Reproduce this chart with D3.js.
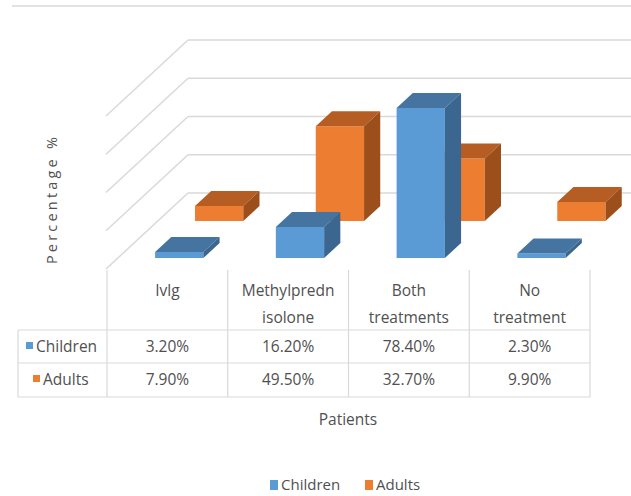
<!DOCTYPE html>
<html>
<head>
<meta charset="utf-8">
<script src="https://cdn.jsdelivr.net/npm/d3@7"></script>
<style>
html,body{margin:0;padding:0;background:#fff;}
svg{display:block;font-family:"Open Sans",sans-serif;}
</style>
</head>
<body>
<svg id="chart" width="631" height="496"></svg>
<script>
const categories = ["Ivlg", "Methylprednisolone", "Both treatments", "No treatment"];
const categoryLabels = [["Ivlg"], ["Methylpredn", "isolone"], ["Both", "treatments"], ["No", "treatment"]];
const seriesNames = ["Children", "Adults"];
const childrenValues = [3.2, 16.2, 78.4, 2.3];
const adultsValues = [7.9, 49.5, 32.7, 9.9];
const valueLabelsChildren = ["3.20%", "16.20%", "78.40%", "2.30%"];
const valueLabelsAdults = ["7.90%", "49.50%", "32.70%", "9.90%"];
const yTicks = [0, 20, 40, 60, 80];

const svg = d3.select("#chart");
const textColor = "#505050";
const gridColor = "#d9d9d9";
const colors = {
  Children: {front: "#5b9bd5", top: "#44749f", side: "#3a6690"},
  Adults: {front: "#ed7d31", top: "#b55d22", side: "#9c4f1b"}
};

// geometry
const floorY = 269;
const leftX = 106, rightX = 590;
const depthTotal = 76;
const kx = 82 / 76;
const x = d3.scaleBand().domain(categories).range([107, rightX]).paddingInner(0.6).paddingOuter(0.3);
const y = d3.scaleLinear().domain([0, 80]).range([0, 153]);
const depthRows = {Children: [11, 26], Adults: [48, 63]};

function P(px, d, v) { return [px + d * kx, floorY - d - y(v)]; }

// top border line
svg.append("line").attr("x1", 12).attr("x2", 631).attr("y1", 6).attr("y2", 6)
  .attr("stroke", gridColor).attr("stroke-width", 1.5);

// gridlines
const grid = svg.append("g");
yTicks.forEach(t => {
  const a = [leftX, floorY - y(t)];
  const b = [leftX + depthTotal * kx, floorY - depthTotal - y(t)];
  grid.append("line").attr("x1", a[0]).attr("y1", a[1]).attr("x2", b[0]).attr("y2", b[1])
    .attr("stroke", gridColor).attr("stroke-width", 1.5);
  grid.append("line").attr("x1", b[0]).attr("y1", b[1]).attr("x2", 640).attr("y2", b[1])
    .attr("stroke", gridColor).attr("stroke-width", 1.5);
});

// bars
function drawBars(name, values) {
  const g = svg.append("g");
  const [d0, d1] = depthRows[name];
  const dd = d1 - d0;
  const c = colors[name];
  categories.forEach((cat, i) => {
    const v = values[i];
    const x1 = x(cat), x2 = x(cat) + x.bandwidth();
    const fl = P(x1, d0, v), fr = P(x2, d0, v), fb = P(x2, d0, 0), fbl = P(x1, d0, 0);
    const off = [dd * kx, -dd];
    const mv = p => [p[0] + off[0], p[1] + off[1]];
    const path = pts => "M" + pts.map(p => p.join(",")).join("L") + "Z";
    g.append("path").attr("d", path([fl, fr, fb, fbl])).attr("fill", c.front);
    g.append("path").attr("d", path([fl, fr, mv(fr), mv(fl)])).attr("fill", c.top);
    g.append("path").attr("d", path([fr, mv(fr), mv(fb), fb])).attr("fill", c.side);
  });
}
drawBars("Adults", adultsValues);
drawBars("Children", childrenValues);

// axis title
svg.append("text").attr("transform", "translate(57,199) rotate(-90)")
  .attr("text-anchor", "middle").attr("fill", textColor)
  .attr("font-size", 14.5).attr("letter-spacing", 3.2).text("Percentage %");

// data table
const tbl = svg.append("g");
const tableTop = 270, row1 = 330, row2 = 363, row3 = 397, tableLeft = 18;
const lineAttr = sel => sel.attr("stroke", gridColor).attr("stroke-width", 1.2);
const colBounds = [107].concat(categories.map(c => x(c) + x.bandwidth() / 2 + x.step() / 2));
colBounds.forEach(cx => {
  lineAttr(tbl.append("line").attr("x1", cx).attr("x2", cx).attr("y1", tableTop).attr("y2", row3));
});
lineAttr(tbl.append("line").attr("x1", tableLeft).attr("x2", tableLeft).attr("y1", row1).attr("y2", row3));
[row1, row2, row3].forEach(ry => {
  lineAttr(tbl.append("line").attr("x1", tableLeft).attr("x2", rightX).attr("y1", ry).attr("y2", ry));
});

const fs = 15.5;
categories.forEach((cat, i) => {
  const cx = x(cat) + x.bandwidth() / 2;
  categoryLabels[i].forEach((ln, j) => {
    tbl.append("text").attr("x", cx).attr("y", 296 + j * 27).attr("text-anchor", "middle")
      .attr("fill", textColor).attr("font-size", fs).text(ln);
  });
  tbl.append("text").attr("x", cx).attr("y", 352).attr("text-anchor", "middle")
    .attr("fill", textColor).attr("font-size", fs).text(valueLabelsChildren[i]);
  tbl.append("text").attr("x", cx).attr("y", 385).attr("text-anchor", "middle")
    .attr("fill", textColor).attr("font-size", fs).text(valueLabelsAdults[i]);
});
[["Children", 352, 26], ["Adults", 385, 33]].forEach(([nm, ty, kx0]) => {
  tbl.append("rect").attr("x", kx0).attr("y", ty - 10).attr("width", 7).attr("height", 7)
    .attr("fill", colors[nm].front);
  tbl.append("text").attr("x", kx0 + 10).attr("y", ty).attr("fill", textColor)
    .attr("font-size", fs).text(nm);
});

// x axis title
svg.append("text").attr("x", 348).attr("y", 425).attr("text-anchor", "middle")
  .attr("fill", textColor).attr("font-size", 15.5).text("Patients");

// legend
const leg = svg.append("g");
[["Children", 270], ["Adults", 365]].forEach(([nm, lx]) => {
  leg.append("rect").attr("x", lx).attr("y", 480).attr("width", 8).attr("height", 10)
    .attr("fill", colors[nm].front);
  leg.append("text").attr("x", lx + 11).attr("y", 490).attr("fill", textColor)
    .attr("font-size", 15).text(nm);
});
</script>
</body>
</html>
